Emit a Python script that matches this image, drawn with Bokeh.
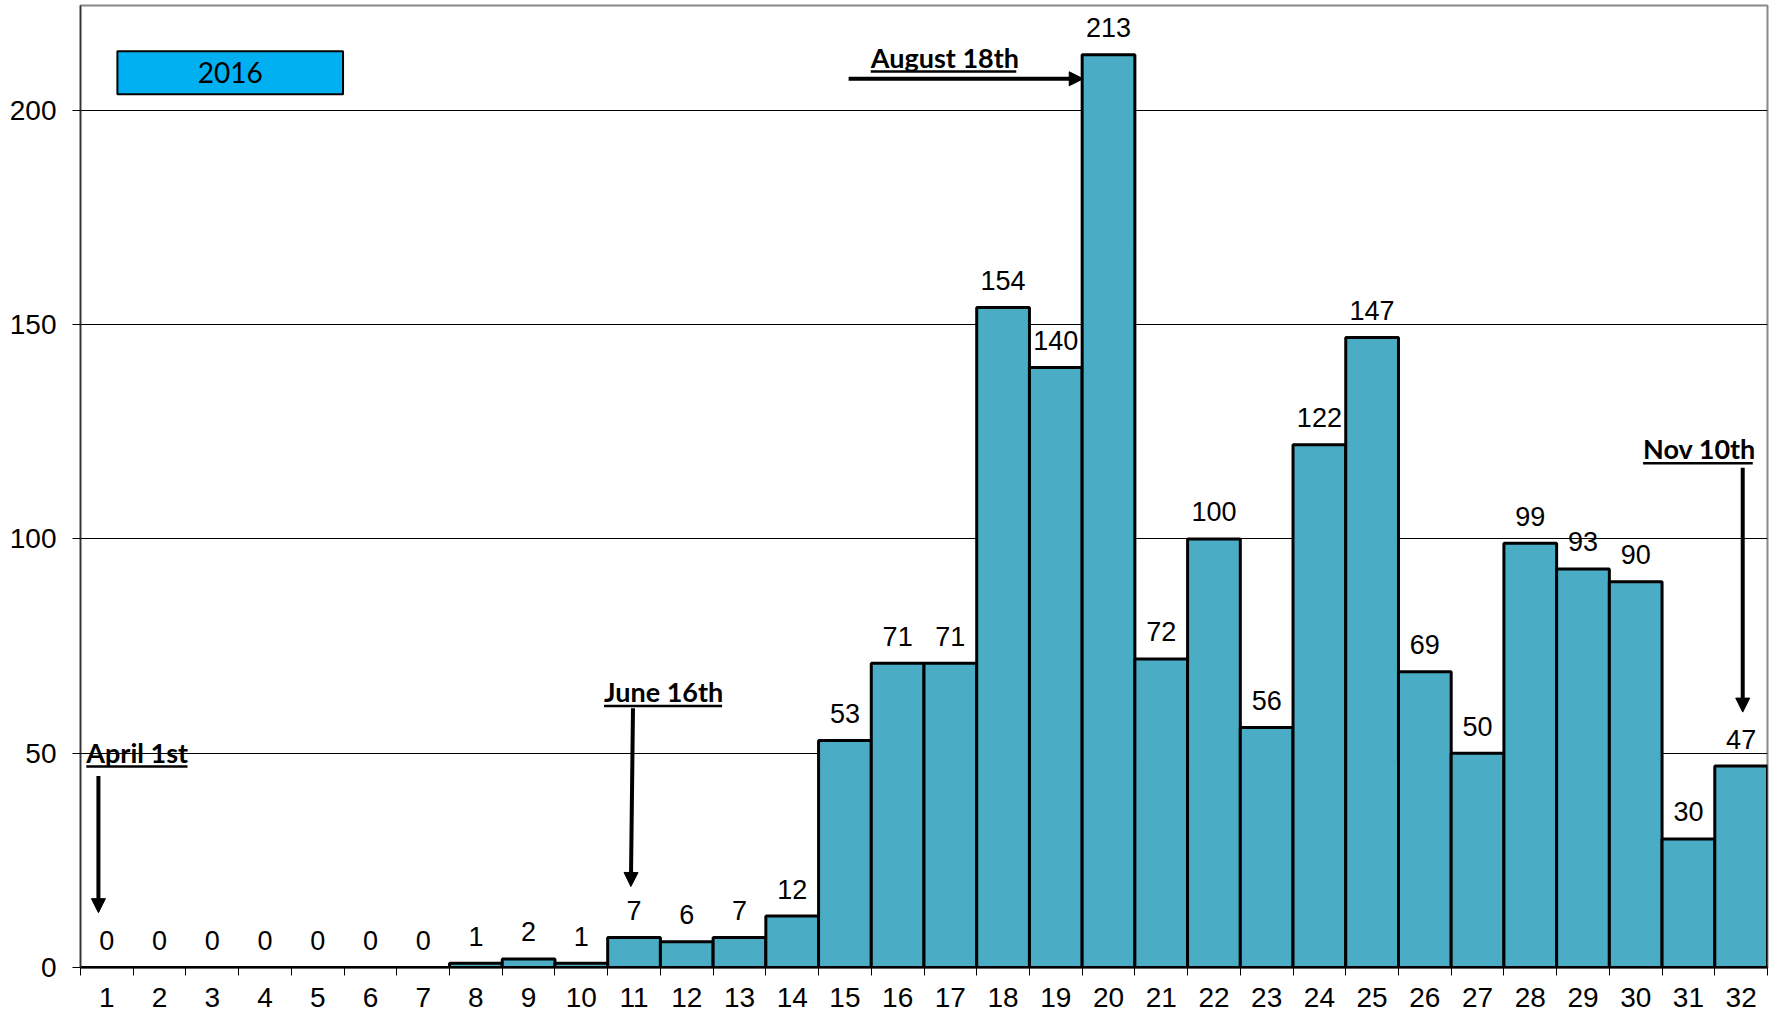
from bokeh.plotting import figure
from bokeh.models import FixedTicker, Range1d, Arrow, NormalHead, ColumnDataSource
from bokeh.core.properties import value
from bokeh.embed import file_html
from bokeh.resources import INLINE

# ---- data ----
weeks = list(range(1, 33))
counts = [0, 0, 0, 0, 0, 0, 0, 1, 2, 1, 7, 6, 7, 12, 53, 71, 71, 154, 140, 213,
          72, 100, 56, 122, 147, 69, 50, 99, 93, 90, 30, 47]
y_ticks = [0, 50, 100, 150, 200]
series_name = "2016"

# annotations (text, left x, baseline y, underline end x)
ann_text = ["April 1st", "June 16th", "August 18th", "Nov 10th"]
ann_x = [0.61, 10.43, 15.49, 30.14]
ann_y = [48.4, 62.6, 210.6, 119.2]
ann_x_end = [2.53, 12.67, 18.25, 32.22]
ann_ul_y = [46.9, 61.0, 209.1, 117.7]
arr_x0 = [0.84, 10.98, 15.07, 32.03]
arr_y0 = [44.7, 60.5, 207.4, 116.6]
arr_x1 = [0.84, 10.94, 19.52, 32.03]
arr_y1 = [12.8, 18.9, 207.4, 59.6]

# legend box (data units)
leg_left, leg_right, leg_bottom, leg_top = 1.2, 5.48, 203.8, 213.8

BAR = "#4BACC6"
FONT = "Liberation Sans"
ANN_FONT = "Lato"

p = figure(width=1770, height=1012, output_backend="svg", toolbar_location=None,
           x_range=Range1d(0.5, 32.5), y_range=Range1d(0, 224.5),
           min_border_left=80, min_border_right=3, min_border_top=5,
           min_border_bottom=45)
p.background_fill_color = "white"
p.border_fill_color = "white"
p.outline_line_color = "#888888"
p.outline_line_width = 2

src = ColumnDataSource(dict(x=weeks, top=counts, label=[str(c) for c in counts]))
p.vbar(x="x", top="top", width=1.0, bottom=0, source=src, fill_color=BAR,
       line_color="black", line_width=3)
p.text(x="x", y="top", text="label", source=src, text_font=value(FONT),
       text_font_size="27px", text_align="center", text_baseline="alphabetic",
       y_offset=-27, text_color="black")

# grid
p.xgrid.visible = False
p.ygrid.ticker = FixedTicker(ticks=y_ticks)
p.ygrid.grid_line_color = "black"
p.ygrid.grid_line_width = 1

# axes
p.xaxis.ticker = FixedTicker(ticks=weeks, minor_ticks=[w + 0.5 for w in [0] + weeks])
p.xaxis.major_tick_out = 0
p.xaxis.major_tick_in = 0
p.xaxis.minor_tick_out = 8
p.xaxis.minor_tick_in = 0
p.xaxis.minor_tick_line_color = "black"
p.xaxis.axis_line_color = "black"
p.xaxis.axis_line_width = 2
p.xaxis.major_label_standoff = 12
p.xaxis.major_label_text_font = FONT
p.xaxis.major_label_text_font_size = "28px"
p.xaxis.major_label_text_color = "black"

p.yaxis.ticker = FixedTicker(ticks=y_ticks, minor_ticks=[])
p.yaxis.major_tick_out = 8
p.yaxis.major_tick_in = 0
p.yaxis.major_tick_line_color = "black"
p.yaxis.axis_line_color = "#333333"
p.yaxis.axis_line_width = 1.5
p.yaxis.major_label_standoff = 16
p.yaxis.major_label_text_font = FONT
p.yaxis.major_label_text_font_size = "28px"
p.yaxis.major_label_text_color = "black"

# legend-like box
p.quad(left=[leg_left], right=[leg_right], bottom=[leg_bottom], top=[leg_top],
       fill_color="#00B0F0", line_color="black", line_width=2)
p.text(x=[(leg_left + leg_right) / 2], y=[(leg_bottom + leg_top) / 2], text=[series_name],
       text_font=value(ANN_FONT), text_font_size="28px", text_align="center",
       text_baseline="middle", text_color="black")

# annotations
p.text(x=ann_x, y=ann_y, text=ann_text, text_font=value(ANN_FONT),
       text_font_size="27px", text_font_style="bold", text_align="left",
       text_baseline="alphabetic", y_offset=-8, text_color="black")
p.segment(x0=ann_x, y0=ann_ul_y, x1=ann_x_end, y1=ann_ul_y, line_color="black",
          line_width=2.5)
for x0, y0, x1, y1 in zip(arr_x0, arr_y0, arr_x1, arr_y1):
    p.add_layout(Arrow(x_start=x0, y_start=y0, x_end=x1, y_end=y1,
                       line_color="black", line_width=4,
                       end=NormalHead(size=14, fill_color="black", line_color="black")))

open("out.html", "w").write(file_html(p, INLINE))
